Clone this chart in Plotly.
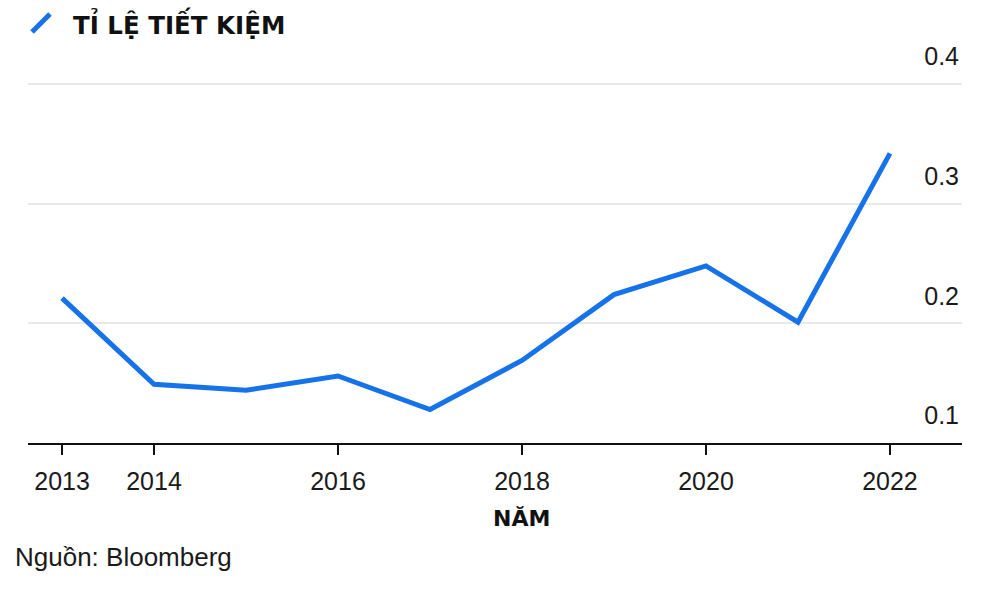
import plotly.graph_objects as go

years = [2013, 2014, 2015, 2016, 2017, 2018, 2019, 2020, 2021, 2022]
savings_rate = [0.221, 0.149, 0.144, 0.156, 0.128, 0.169, 0.224, 0.248, 0.201, 0.342]
x_ticks = [2013, 2014, 2016, 2018, 2020, 2022]
y_ticks = [0.1, 0.2, 0.3, 0.4]
y_tick_labels = ["0.1", "0.2", "0.3", "0.4"]

series_name = "TỈ LỆ TIẾT KIỆM"
x_title = "NĂM"
source = "Nguồn: Bloomberg"

W, H = 1003, 590
L, R, T, B = 28, 41, 30, 147
pw, ph = W - L - R, H - T - B

def px(x):
    return (x - L) / pw

def py(y):
    return (H - B - y) / ph

blue = "#1672E8"

fig = go.Figure()
fig.add_trace(go.Scatter(
    x=years, y=savings_rate, mode="lines",
    line=dict(color=blue, width=5),
    showlegend=False, hoverinfo="x+y",
))

fig.update_layout(
    width=W, height=H,
    margin=dict(l=L, r=R, t=T, b=B),
    paper_bgcolor="white", plot_bgcolor="white",
    font=dict(family="Liberation Sans, Arial, sans-serif", size=25, color="#1a1a1a"),
    xaxis=dict(
        range=[2012.630, 2022.783],
        tickmode="array", tickvals=x_ticks, ticktext=[str(v) for v in x_ticks],
        showgrid=False, zeroline=False,
        showline=True, linecolor="#111111", linewidth=2,
        ticks="outside", ticklen=10, tickwidth=1.5, tickcolor="#111111",
        tickfont=dict(size=25, color="#1a1a1a"),
        ticklabelstandoff=5,
        fixedrange=True,
    ),
    yaxis=dict(
        range=[0.1, 0.4451],
        side="right",
        tickmode="array", tickvals=y_ticks, ticktext=y_tick_labels,
        ticklabelposition="inside top",
        ticklabelshift=-10,
        showgrid=True, gridcolor="#e9e9e9", gridwidth=2,
        zeroline=False, showline=False, ticks="",
        tickfont=dict(size=25, color="#1a1a1a"),
        fixedrange=True,
    ),
)

# legend icon (diagonal line) and label
fig.add_shape(type="line", xref="paper", yref="paper",
              x0=px(32), y0=py(32), x1=px(50), y1=py(14),
              line=dict(color=blue, width=5))
fig.add_annotation(xref="paper", yref="paper", x=px(71), y=py(23),
                   xanchor="left", yanchor="middle", showarrow=False,
                   text="<b>" + series_name + "</b>",
                   font=dict(family="DejaVu Sans, Verdana, sans-serif", size=24.5, color="#111111"))

# x-axis title
fig.add_annotation(xref="paper", yref="paper", x=px(521), y=py(518),
                   xanchor="center", yanchor="middle", showarrow=False,
                   text="<b>" + x_title + "</b>",
                   font=dict(family="DejaVu Sans, Verdana, sans-serif", size=22, color="#111111"))

# source
fig.add_annotation(xref="paper", yref="paper", x=px(13), y=py(557),
                   xanchor="left", yanchor="middle", showarrow=False,
                   text=source,
                   font=dict(family="Liberation Sans, Arial, sans-serif", size=26, color="#1a1a1a"))

fig.write_html("out.html")
